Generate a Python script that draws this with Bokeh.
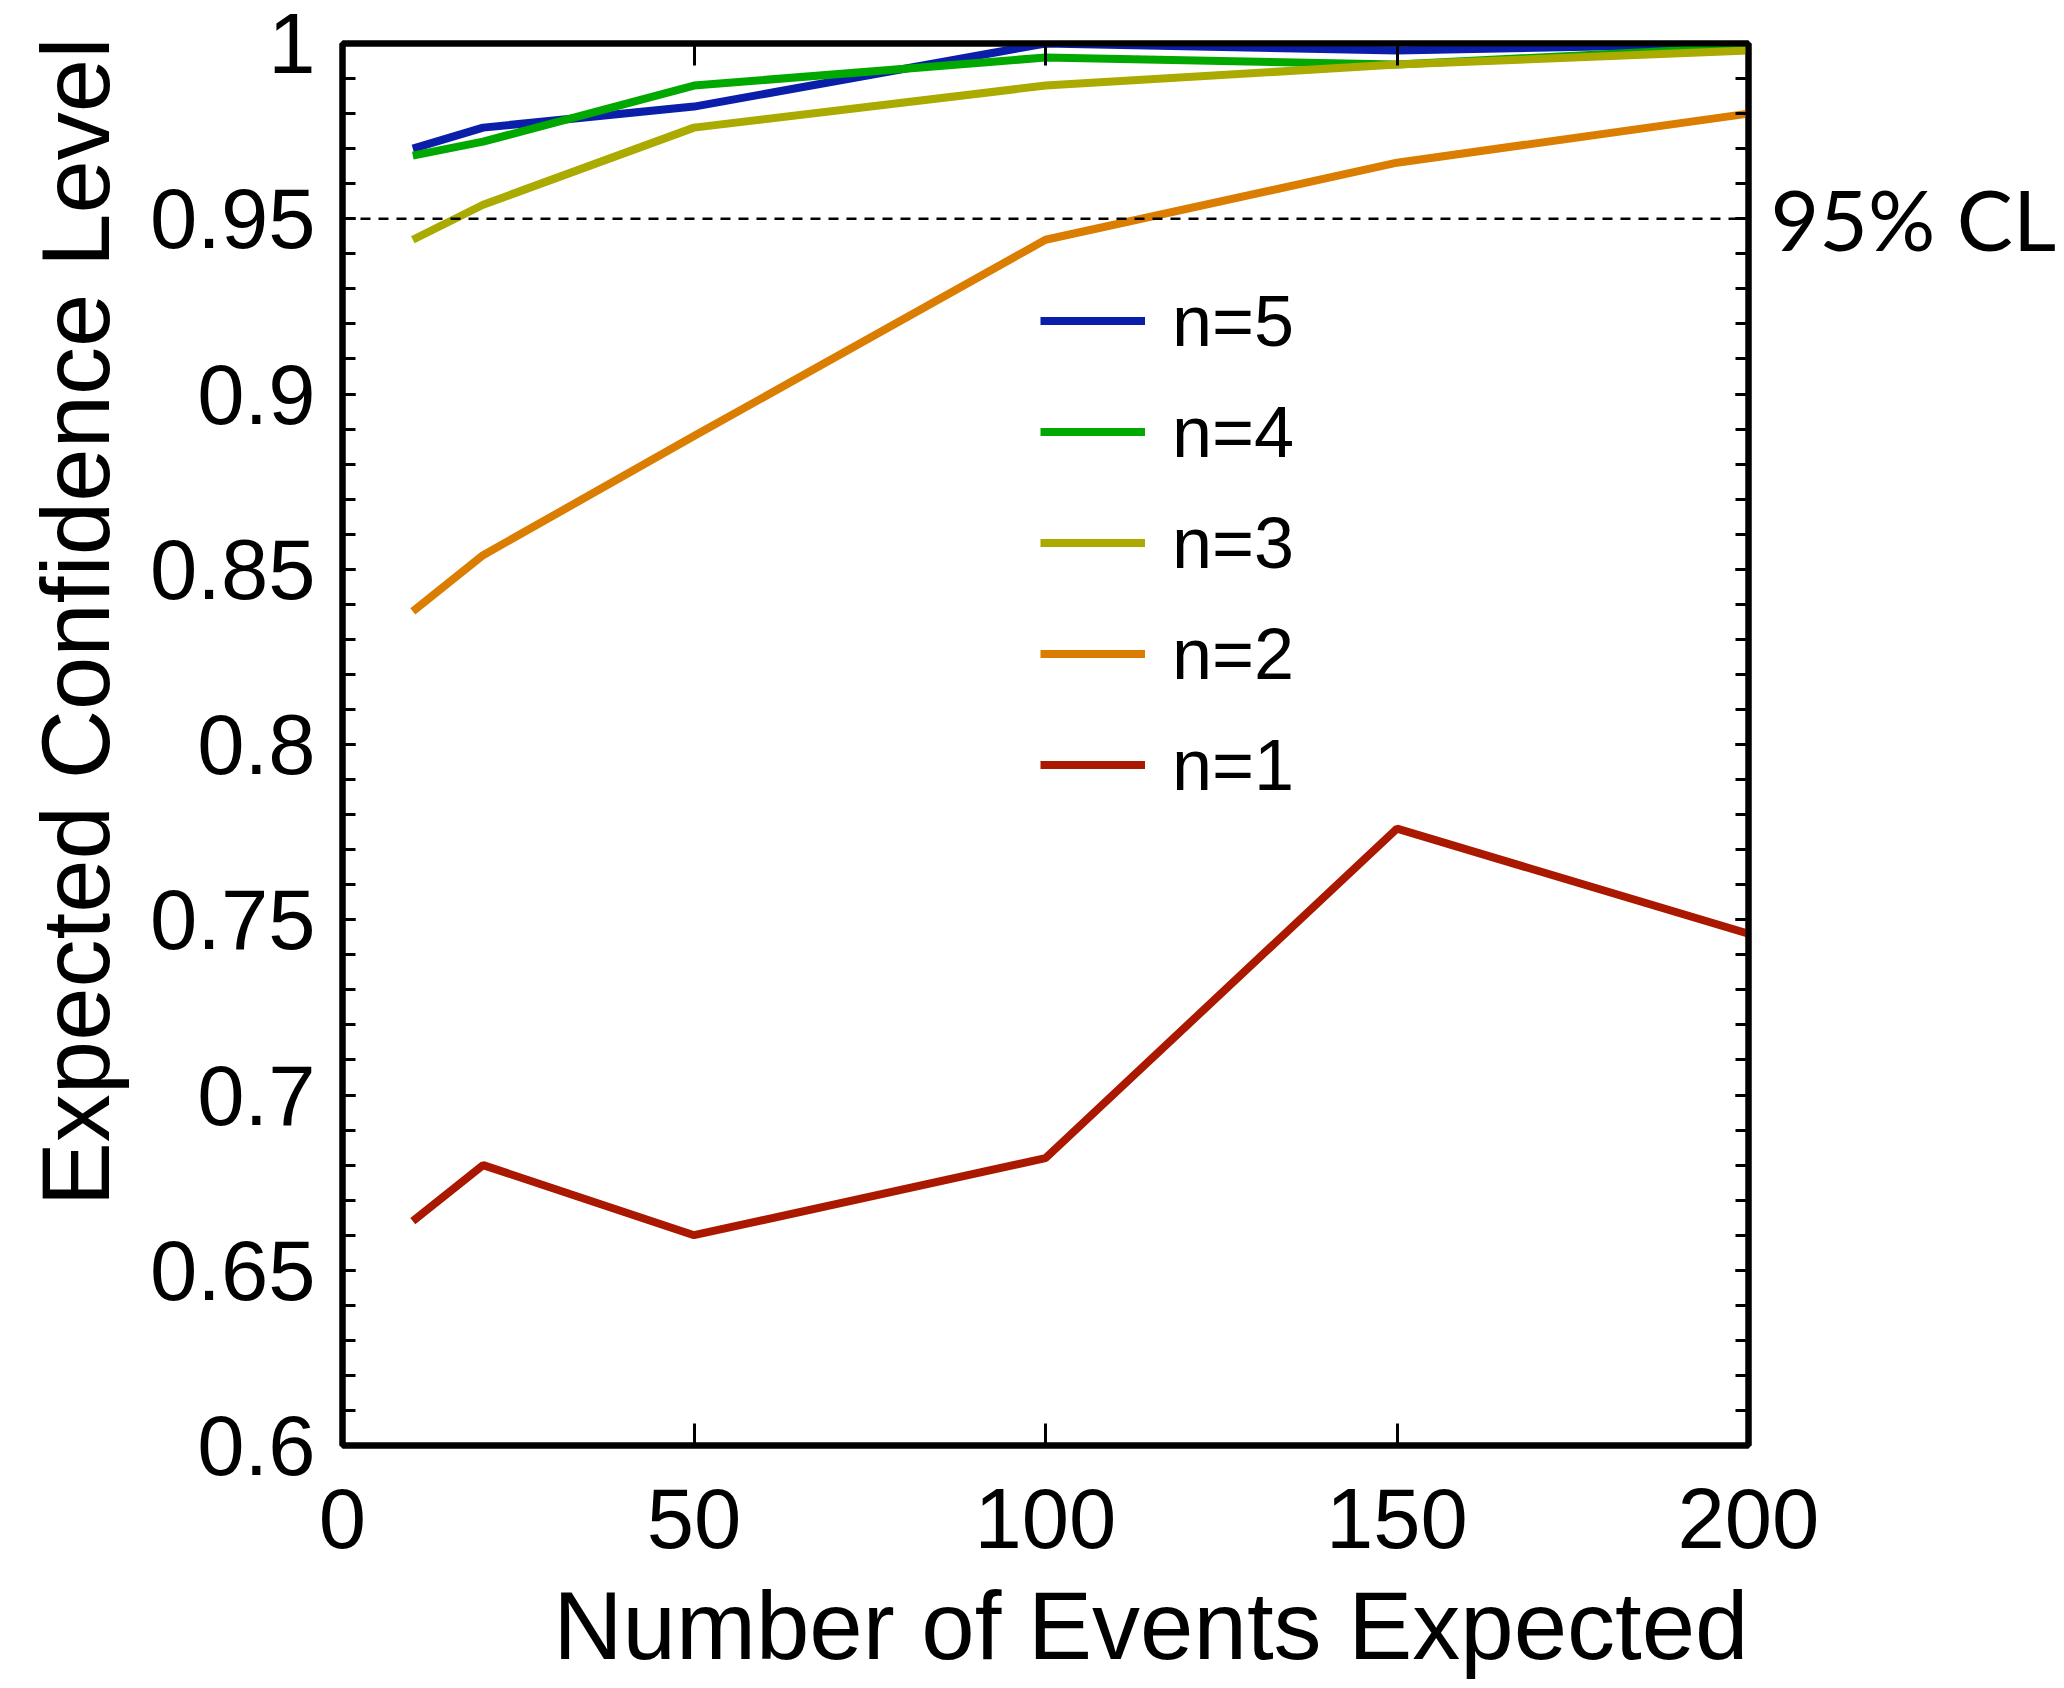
import numpy as np
from bokeh.plotting import figure
from bokeh.models import (FixedTicker, LinearAxis, Span, Legend, LegendItem,
                          CustomJSTickFormatter, Range1d, Title)
from bokeh.embed import file_html
from bokeh.resources import INLINE

# ---- data ----
x_events = [10, 20, 50, 100, 150, 200]
cl_n5 = [0.970, 0.976, 0.982, 1.000, 0.998, 1.000]
cl_n4 = [0.968, 0.972, 0.988, 0.996, 0.994, 0.999]
cl_n3 = [0.944, 0.954, 0.976, 0.988, 0.994, 0.998]
cl_n2 = [0.838, 0.854, 0.888, 0.944, 0.966, 0.980]
cl_n1 = [0.664, 0.680, 0.660, 0.682, 0.776, 0.746]
series_names = ["n=5", "n=4", "n=3", "n=2", "n=1"]
series_colors = ["#0A1EAA", "#00A800", "#AAAA00", "#DA7D00", "#AA1800"]
x_ticks = [0, 50, 100, 150, 200]
y_ticks = [0.6, 0.65, 0.7, 0.75, 0.8, 0.85, 0.9, 0.95, 1.0]
y_minor = [round(0.6 + 0.01 * i, 2) for i in range(41)]
cl_ref = 0.95
cl_ref_label = "95% CL"
x_title = "Number of Events Expected"
y_title = "Expected Confidence Level"

FONT = "Liberation Sans"

p = figure(frame_width=1406, frame_height=1402,
           min_border_left=342, min_border_right=316,
           min_border_top=43, min_border_bottom=243,
           x_range=Range1d(0, 200), y_range=Range1d(0.6, 1.0),
           output_backend="svg", toolbar_location=None)
p.background_fill_color = "white"
p.border_fill_color = "white"
p.xgrid.visible = False
p.ygrid.visible = False
p.outline_line_color = "black"
p.outline_line_width = 6

p.add_layout(LinearAxis(), "above")
p.add_layout(LinearAxis(), "right")

fmt = CustomJSTickFormatter(code="""
var s = tick.toFixed(2);
s = s.replace(/0+$/, '').replace(/\\.$/, '');
return s;
""")

fmt_right = CustomJSTickFormatter(args=dict(ref=cl_ref, lab=cl_ref_label), code="""
return Math.abs(tick - ref) < 1e-6 ? lab : "";
""")

for ax in p.xaxis:
    ax.ticker = FixedTicker(ticks=x_ticks)
    ax.major_tick_in = 22
    ax.major_tick_out = 0
    ax.minor_tick_in = 0
    ax.minor_tick_out = 0
    ax.major_tick_line_width = 3
    ax.axis_line_width = 6
    ax.major_label_text_font = FONT
    ax.major_label_text_font_size = "85px"
    ax.major_label_standoff = 43
    ax.major_label_text_color = "black"

for ax in p.yaxis:
    ax.ticker = FixedTicker(ticks=y_ticks, minor_ticks=y_minor)
    ax.formatter = fmt
    ax.major_tick_in = 13
    ax.major_tick_out = 0
    ax.minor_tick_in = 13
    ax.minor_tick_out = 0
    ax.major_tick_line_width = 3
    ax.minor_tick_line_width = 3
    ax.axis_line_width = 6
    ax.major_label_text_font = FONT
    ax.major_label_text_font_size = "85px"
    ax.major_label_standoff = 27
    ax.major_label_text_color = "black"

# hide labels on top axis
p.above[0].major_label_text_font_size = "1px"
p.above[0].major_label_text_color = None
# right axis carries only the reference-line label
p.right[0].formatter = fmt_right
p.right[0].major_label_text_font = "Lato"
p.right[0].major_label_text_font_size = "84px"
p.right[0].major_label_standoff = 22

# reference line
p.add_layout(Span(location=cl_ref, dimension="width", line_color="black",
                  line_width=2.5, line_dash="10 8"))

all_series = [cl_n5, cl_n4, cl_n3, cl_n2, cl_n1]
items = []
for name, col, ys in zip(series_names, series_colors, all_series):
    r = p.line(x_events, ys, line_color=col, line_width=8)
    items.append(LegendItem(label=name, renderers=[r]))

legend = Legend(items=items, location=(698, 625),
                glyph_width=105, glyph_height=111, label_height=111,
                label_standoff=27, spacing=0, padding=0, margin=0,
                label_text_font=FONT, label_text_font_size="72px",
                label_text_color="black",
                background_fill_alpha=0, border_line_alpha=0)
p.add_layout(legend, "center")

p.add_layout(Title(text=x_title, align="right", text_font=FONT,
                   text_font_size="96px", text_font_style="normal",
                   text_color="black", standoff=39), "below")
p.add_layout(Title(text=y_title, align="right", text_font=FONT,
                   text_font_size="96px", text_font_style="normal",
                   text_color="black", standoff=37, offset=-6), "left")

open("out.html", "w").write(file_html(p, INLINE))
